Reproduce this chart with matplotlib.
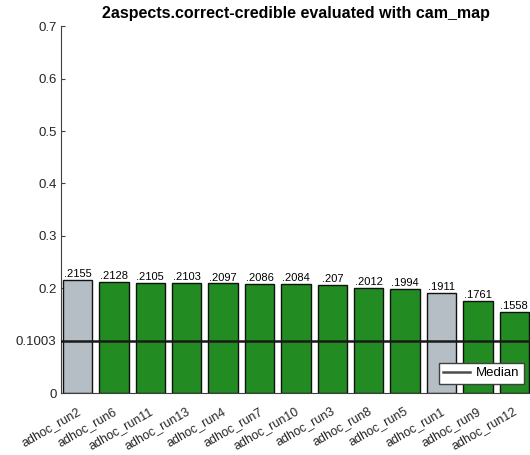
import matplotlib.pyplot as plt
import matplotlib.transforms as mtransforms
import numpy as np

plt.rcParams['font.family'] = ['Liberation Sans', 'DejaVu Sans']

runs = ['adhoc_run2', 'adhoc_run6', 'adhoc_run11', 'adhoc_run13', 'adhoc_run4',
        'adhoc_run7', 'adhoc_run10', 'adhoc_run3', 'adhoc_run8', 'adhoc_run5',
        'adhoc_run1', 'adhoc_run9', 'adhoc_run12']
scores = [0.2155, 0.2128, 0.2105, 0.2103, 0.2097, 0.2086, 0.2084, 0.207,
          0.2012, 0.1994, 0.1911, 0.1761, 0.1558]
gray_runs = ['adhoc_run2', 'adhoc_run1']
median = 0.1003
yticks = [0, median, 0.2, 0.3, 0.4, 0.5, 0.6, 0.7]
yticklabels = ['0', '0.1003', '0.2', '0.3', '0.4', '0.5', '0.6', '0.7']

fig = plt.figure(figsize=(5.3, 4.55), dpi=100)
ax = fig.add_axes([0.1145, 0.1356, 0.8875, 0.807])

x = np.arange(len(runs))
colors = ['#b4bec4' if r in gray_runs else '#228b22' for r in runs]
ax.bar(x, scores, width=0.81, color=colors, edgecolor='#111111', linewidth=1.0, zorder=2)

for xi, v in zip(x, scores):
    lab = ('%g' % v).lstrip('0')
    ax.text(xi, v + 0.0015, lab, ha='center', va='bottom', fontsize=8)

ax.axhline(median, color='#1a1a1a', linewidth=1.8, label='Median', zorder=3)

ax.set_xlim(-0.46, len(runs) - 0.54)
ax.set_ylim(0, 0.7)
ax.set_yticks(yticks)
ax.set_yticklabels(yticklabels, fontsize=9.5, color='#262626')
ax.set_xticks(x)
ax.set_xticklabels(runs, rotation=30, ha='right', va='top', fontsize=9, color='#262626')
ax.tick_params(direction='in', length=3, color='#404040')
ax.tick_params(axis='x', pad=8.5)
ax.tick_params(axis='y', pad=3)
shift = mtransforms.ScaledTranslation(5 / 100, 0, fig.dpi_scale_trans)
for lbl in ax.get_xticklabels():
    lbl.set_transform(lbl.get_transform() + shift)
for s in ['top', 'right']:
    ax.spines[s].set_visible(False)
for s in ['left', 'bottom']:
    ax.spines[s].set_color('#404040')

ax.set_title('2aspects.correct-credible evaluated with cam_map', fontsize=11.5, fontweight='bold')
leg = ax.legend(loc='lower right', bbox_to_anchor=(0.9857, 0.0253), borderaxespad=0,
                fontsize=9.5, fancybox=False, edgecolor='#404040', framealpha=1,
                handlelength=2.0, handletextpad=0.5, borderpad=0.35)
leg.get_lines()[0].set_color('#4d4d4d')

plt.savefig('out.png', dpi=100)
